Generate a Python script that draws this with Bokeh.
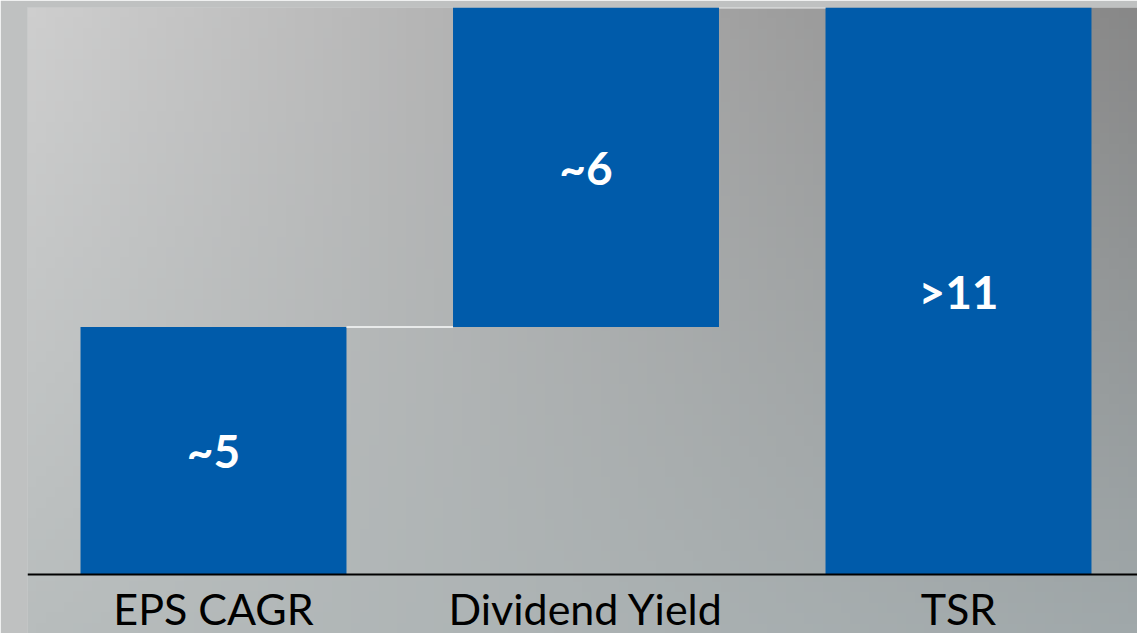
import numpy as np
from bokeh.plotting import figure
from bokeh.models import Range1d, ColumnDataSource, Span
from bokeh.core.properties import value
from bokeh.embed import file_html
from bokeh.resources import INLINE

# ---- data ----
categories = ["EPS CAGR", "Dividend Yield", "TSR"]
steps = [4.8, 6.2]            # waterfall contributions
total = 11.0                  # TSR total
labels = ["~5", "~6", ">11"]

idx = list(range(len(categories)))
bottoms = [0.0, steps[0], 0.0]
tops = [steps[0], steps[0] + steps[1], total]
mids = [(b + t) / 2 for b, t in zip(bottoms, tops)]

BAR_W = 0.714
BLUE = "#005BAA"

W, H = 1137, 633
LEFT, TOP = 27, 7
BASE_PX = 574            # pixel row of the baseline
SPACING = 372.5
x_start = -(213 - LEFT) / SPACING
x_end = x_start + (W - LEFT) / SPACING
unit = (BASE_PX - TOP) / total
y_min = -(H - BASE_PX) / unit

p = figure(width=W, height=H, output_backend="svg", toolbar_location=None,
           x_range=Range1d(x_start, x_end), y_range=Range1d(y_min, total),
           x_axis_location=None, y_axis_location=None,
           min_border_left=LEFT, min_border_right=0,
           min_border_top=TOP, min_border_bottom=0)
p.outline_line_color = None
p.grid.visible = False
p.border_fill_color = "#bfc1c1"
p.background_fill_color = "#b0b2b2"

# background gradient
ny, nx = 60, 120
tl = np.array([206, 206, 206]); tr = np.array([136, 136, 136])
bl = np.array([184, 189, 189]); br = np.array([160, 168, 170])
u = np.linspace(0, 1, nx)[None, :, None]
v = np.linspace(0, 1, ny)[:, None, None]  # 0 bottom, 1 top
col = (bl * (1 - u) + br * u) * (1 - v) + (tl * (1 - u) + tr * u) * v
img = np.zeros((ny, nx), dtype=np.uint32)
view = img.view(dtype=np.uint8).reshape((ny, nx, 4))
view[:, :, 0:3] = col.astype(np.uint8)
view[:, :, 3] = 255
p.image_rgba(image=[img], x=x_start, y=y_min, dw=x_end - x_start, dh=total - y_min)

src = ColumnDataSource(dict(x=idx, bottom=bottoms, top=tops, mid=mids,
                            label=labels, cat=categories, zero=[0.0] * len(idx)))
p.vbar(x="x", width=BAR_W, bottom="bottom", top="top", source=src,
       fill_color=BLUE, line_color=None)

# connectors
cx0 = [i + BAR_W / 2 for i in idx[:-1]]
cx1 = [i + 1 - BAR_W / 2 for i in idx[:-1]]
cy = tops[:-1]
p.segment(x0=cx0, x1=cx1, y0=cy, y1=cy, line_color="#e8eaea", line_width=2)

# baseline
p.add_layout(Span(location=0, dimension="width", line_color="black", line_width=2))

p.text(x="x", y="mid", text="label", source=src, text_color="white",
       text_font=value("Lato"), text_font_style="bold", text_font_size="46px",
       text_align="center", text_baseline="middle")

# category labels
p.text(x="x", y="zero", text="cat", source=src, text_color="black",
       text_font=value("Lato"), text_font_size="43px",
       text_align="center", text_baseline="bottom", y_offset=59)

open("out.html", "w").write(file_html(p, INLINE))
